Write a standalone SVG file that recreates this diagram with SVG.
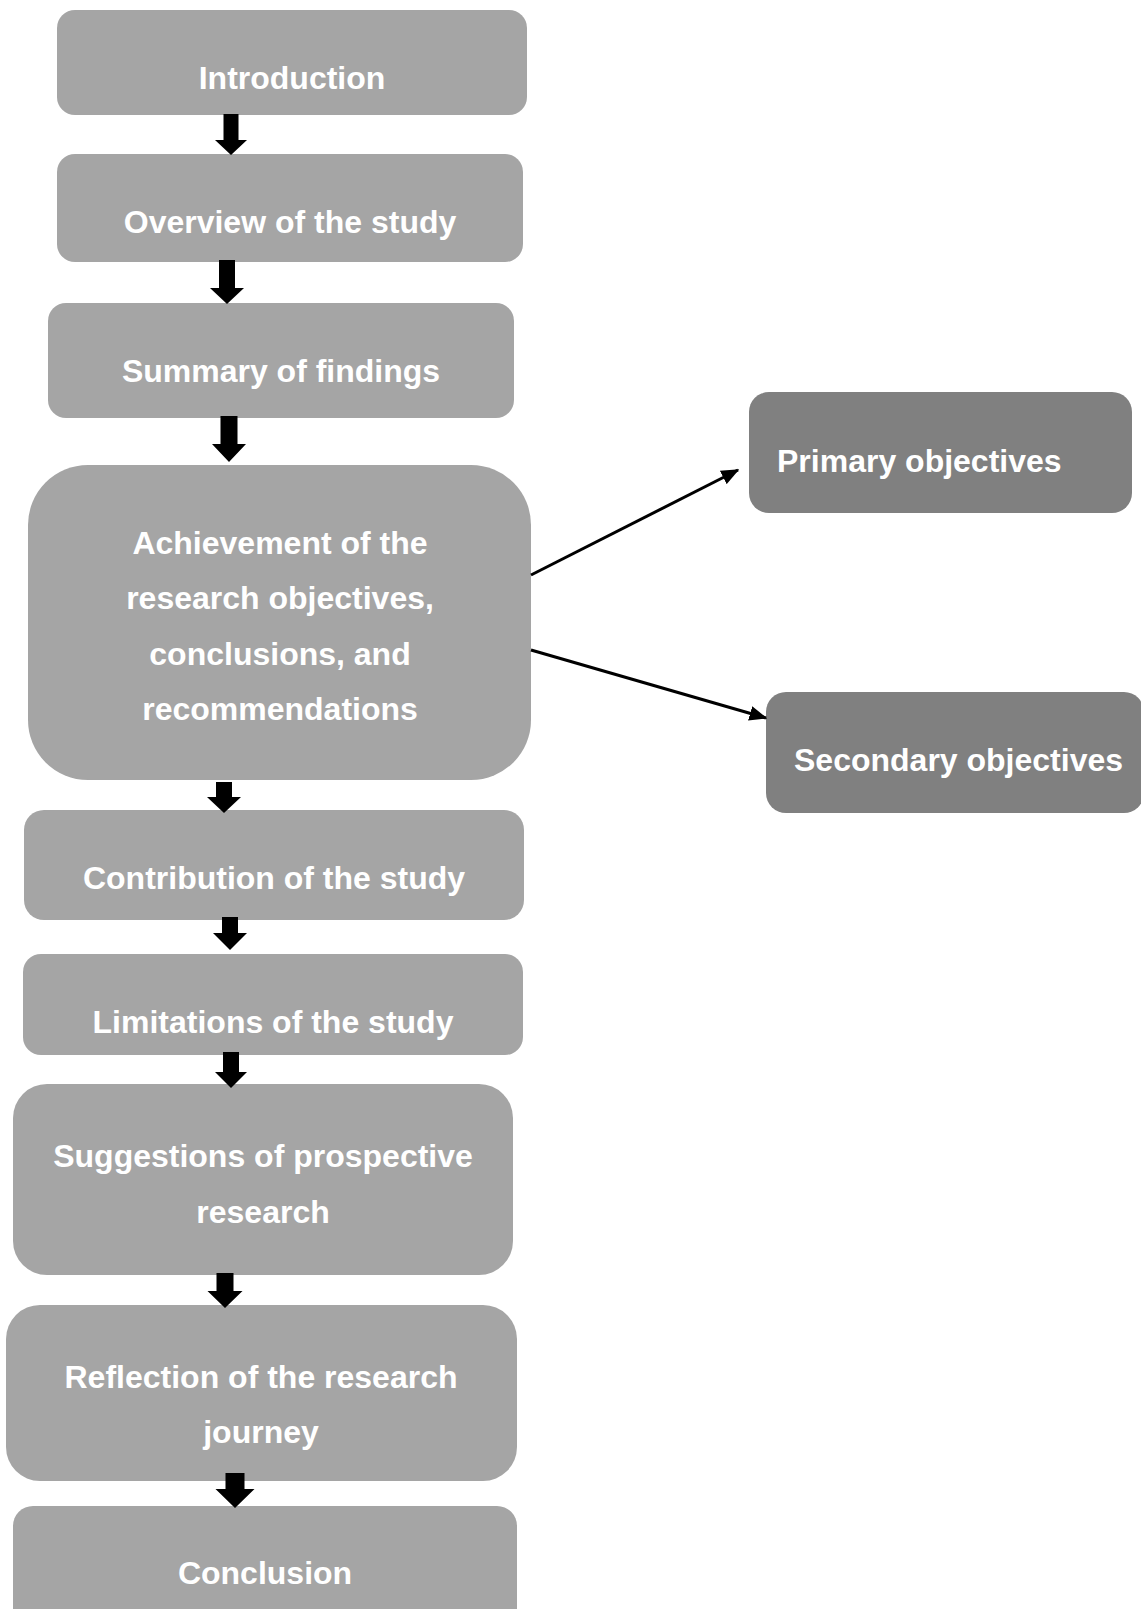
<svg xmlns="http://www.w3.org/2000/svg" width="1141" height="1609" viewBox="0 0 1141 1609">
<defs>
<style>
.box{fill:#a5a5a5}
.dark{fill:#808080}
.t{font-family:"Liberation Sans",Arial,sans-serif;font-weight:bold;font-size:32px;fill:#ffffff;text-anchor:middle}
.tl{text-anchor:start}
.blk{fill:#000000}
.ln{stroke:#000000;stroke-width:3;fill:none}
</style>
<marker id="ah" markerWidth="6" markerHeight="5" refX="5.5" refY="2.5" orient="auto" markerUnits="strokeWidth">
<path d="M0,0 L6,2.5 L0,5 Z" fill="#000000"/>
</marker>
</defs>
<rect width="1141" height="1609" fill="#ffffff"/>
<g id="nodes">
<g id="introduction"><rect class="box" x="57" y="10" width="470" height="105" rx="18"/><text class="t" x="292" y="89">Introduction</text></g>
<g id="overview"><rect class="box" x="57" y="154" width="466" height="108" rx="18"/><text class="t" x="290" y="233">Overview of the study</text></g>
<g id="summary"><rect class="box" x="48" y="303" width="466" height="115" rx="18"/><text class="t" x="281" y="382">Summary of findings</text></g>
<g id="achievement"><rect class="box" x="28" y="465" width="503" height="315" rx="60"/>
<text class="t" x="280" y="554">Achievement of the</text>
<text class="t" x="280" y="609">research objectives,</text>
<text class="t" x="280" y="665">conclusions, and</text>
<text class="t" x="280" y="720">recommendations</text></g>
<g id="contribution"><rect class="box" x="24" y="810" width="500" height="110" rx="20"/><text class="t" x="274" y="889">Contribution of the study</text></g>
<g id="limitations"><rect class="box" x="23" y="954" width="500" height="101" rx="18"/><text class="t" x="273" y="1033">Limitations of the study</text></g>
<g id="suggestions"><rect class="box" x="13" y="1084" width="500" height="191" rx="34"/>
<text class="t" x="263" y="1167">Suggestions of prospective</text>
<text class="t" x="263" y="1223">research</text></g>
<g id="reflection"><rect class="box" x="6" y="1305" width="511" height="176" rx="34"/>
<text class="t" x="261" y="1388">Reflection of the research</text>
<text class="t" x="261" y="1443">journey</text></g>
<g id="conclusion"><rect class="box" x="13" y="1506" width="504" height="130" rx="20"/><text class="t" x="265" y="1584">Conclusion</text></g>
<g id="primary"><rect class="dark" x="749" y="392" width="383" height="121" rx="20"/><text class="t tl" x="777" y="472">Primary objectives</text></g>
<g id="secondary"><rect class="dark" x="766" y="692" width="378" height="121" rx="20"/><text class="t tl" x="794" y="771">Secondary objectives</text></g>
</g>
<g id="connectors">
<path class="blk" d="M223.5,114 H238.5 V140 H247 L231,155 L215,140 H223.5 Z"/>
<path class="blk" d="M219,260 H235 V288 H244 L227,304 L210,288 H219 Z"/>
<path class="blk" d="M220.5,416 H237.5 V444 H246 L229,462 L212,444 H220.5 Z"/>
<path class="blk" d="M216,782 H232 V797 H241 L224,813 L207,797 H216 Z"/>
<path class="blk" d="M222,917 H238 V933 H247 L230,950 L213,933 H222 Z"/>
<path class="blk" d="M223,1052 H239 V1072 H247 L231,1088 L215,1072 H223 Z"/>
<path class="blk" d="M216.5,1273 H233.5 V1291 H242.5 L225,1308 L207.5,1291 H216.5 Z"/>
<path class="blk" d="M225.5,1473 H244.5 V1489 H254.5 L235,1508 L215.5,1489 H225.5 Z"/>
<line class="ln" x1="531" y1="575" x2="738" y2="470" marker-end="url(#ah)"/>
<line class="ln" x1="531" y1="650" x2="766" y2="718" marker-end="url(#ah)"/>
</g>
</svg>
